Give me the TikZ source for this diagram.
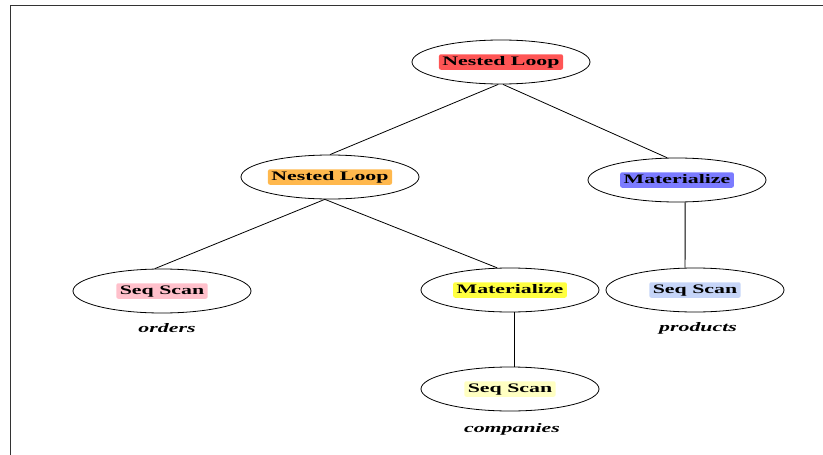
\documentclass[tikz,border=0pt]{standalone}
\usepackage{fontspec}
\setmainfont{Liberation Serif}
\usepackage{graphicx}
\usetikzlibrary{shapes.geometric}
\definecolor{Cloop}{HTML}{FF5555}
\definecolor{Cloopb}{HTML}{FFB84D}
\definecolor{Cmat}{HTML}{7B7BFF}
\definecolor{Cmatb}{HTML}{FFFF40}
\definecolor{Cseq}{HTML}{FFC0CB}
\definecolor{Cseqb}{HTML}{C6D5F8}
\definecolor{Cseqc}{HTML}{FFFFC2}
\newcommand{\wide}[1]{\scalebox{1.68}[1]{#1}}

\tikzset{
  plan/.style={draw, ellipse, minimum width=178pt, minimum height=44pt, inner sep=0pt},
  tag/.style={fill=#1, rounded corners=2pt, inner xsep=3.5pt, inner ysep=1.5pt,
    text height=9.5pt, text depth=3pt, font=\fontsize{13}{15}\selectfont\bfseries},
  relname/.style={font=\fontsize{13}{15}\selectfont\bfseries\itshape}
}

\begin{document}
\begin{tikzpicture}[x=1pt, y=-1pt, line width=0.8pt]

\useasboundingbox (0,0) rectangle (823,455);

% frame
\draw[black!80, line width=1pt] (10,455) -- (10,5) -- (823,5);

% plan nodes
\node[plan, label={[tag=Cloop]center:\wide{Nested Loop}}] (root) at (501,62) {};
\node[plan, label={[tag=Cloopb]center:\wide{Nested Loop}}] (loop) at (330,177) {};
\node[plan, label={[tag=Cmat]center:\wide{Materialize}}] (mat_r) at (677,180) {};
\node[plan, label={[tag=Cseq]center:\wide{Seq Scan}}] (seq_o) at (162,291) {};
\node[plan, label={[tag=Cmatb]center:\wide{Materialize}}] (mat_m) at (510,290) {};
\node[plan, label={[tag=Cseqb]center:\wide{Seq Scan}}] (seq_p) at (695,290) {};
\node[plan, label={[tag=Cseqc]center:\wide{Seq Scan}}] (seq_c) at (510,389) {};

% relation names
\node[relname] (orders) at (167,328) {\wide{orders}};
\node[relname] (products) at (698,328) {\wide{products}};
\node[relname] (companies) at (512,429) {\wide{companies}};

% edges
\draw (root.263) -- (loop.north);
\draw (root.275) -- (mat_r.114);
\draw (loop.257) -- (seq_o.108);
\draw (loop.257) -- (mat_m.120);
\draw (mat_r.290) -- (seq_p.114);
\draw (mat_m.280) -- (seq_c.80);

\end{tikzpicture}
\end{document}
